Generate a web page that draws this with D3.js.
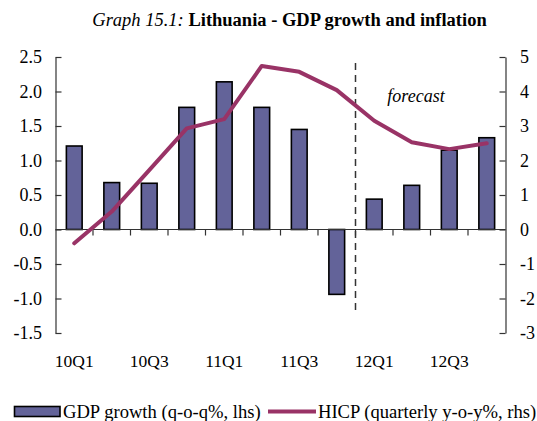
<!DOCTYPE html>
<html><head><meta charset="utf-8">
<script src="https://cdn.jsdelivr.net/npm/d3@7"></script>
<style>body{margin:0;background:#fff}svg{display:block}text{font-family:"Liberation Serif","Times New Roman",serif}</style>
</head><body><svg id="c" width="537" height="421"></svg>
<script>
const categories = ["10Q1","10Q2","10Q3","10Q4","11Q1","11Q2","11Q3","11Q4","12Q1","12Q2","12Q3","12Q4"];
const gdpGrowth = [1.21, 0.68, 0.67, 1.77, 2.14, 1.77, 1.45, -0.94, 0.44, 0.64, 1.15, 1.33];
const hicp = [-0.4, 0.52, 1.72, 2.93, 3.2, 4.74, 4.57, 4.04, 3.15, 2.53, 2.33, 2.5];
const leftTicks = [-1.5,-1.0,-0.5,0,0.5,1.0,1.5,2.0,2.5];
const rightTicks = [-3,-2,-1,0,1,2,3,4,5];
const xLabels = ["10Q1","10Q3","11Q1","11Q3","12Q1","12Q3"];

const svg = d3.select("#c");
const L = 55.5, R = 505.5, T = 57, B = 333;
const FS_TICK = 18, FS_X = 17.5, FS_LEG = 18.6;
const x = d3.scaleBand().domain(categories).range([L, R]).paddingInner(0).paddingOuter(0);
const yL = d3.scaleLinear().domain([-1.5, 2.5]).range([B, T]);
const yR = d3.scaleLinear().domain([-3, 5]).range([B, T]);
const barW = x.bandwidth() * 0.42;
const axisColor = "#333";

// title
const title = svg.append("text").attr("x", 289.5).attr("y", 26).attr("text-anchor", "middle").attr("font-size", 18.5);
title.append("tspan").attr("font-style", "italic").text("Graph 15.1: ");
title.append("tspan").attr("font-weight", "bold").text("Lithuania - GDP growth and inflation");

// bars
svg.selectAll("rect.bar").data(gdpGrowth).join("rect")
  .attr("x", (d, i) => x(categories[i]) + (x.bandwidth() - barW) / 2)
  .attr("y", d => yL(Math.max(0, d)))
  .attr("width", barW)
  .attr("height", d => Math.abs(yL(d) - yL(0)))
  .attr("fill", "#636399").attr("stroke", "#000").attr("stroke-width", 1.6);

// left axis
const gL = svg.append("g").attr("transform", `translate(${L},0)`)
  .call(d3.axisLeft(yL).tickValues(leftTicks).tickSizeInner(-6).tickSizeOuter(0).tickPadding(13.5));
// right axis
const gR = svg.append("g").attr("transform", `translate(${R},0)`)
  .call(d3.axisRight(yR).tickValues(rightTicks).tickSizeInner(-6).tickSizeOuter(0).tickPadding(14.5));
[gL, gR].forEach(g => {
  g.select(".domain").attr("stroke", axisColor).attr("stroke-width", 1.2);
  g.selectAll(".tick line").attr("stroke", axisColor).attr("stroke-width", 1.2);
  g.selectAll("text").attr("font-size", FS_TICK).attr("fill", "#000").style("font-family", '"Liberation Serif",serif');
});
gL.selectAll(".tick text").text(d => d < 0 ? "-" + Math.abs(d).toFixed(1) : d.toFixed(1));
gR.selectAll(".tick text").text(d => d < 0 ? "-" + Math.abs(d) : String(d));

// x axis at zero
const gX = svg.append("g").attr("transform", `translate(0,${yL(0)})`);
gX.append("line").attr("x1", L).attr("x2", R).attr("stroke", axisColor).attr("stroke-width", 1.2);
const bounds = d3.range(1, categories.length).map(i => x(categories[i]));
gX.selectAll("line.t").data(bounds).join("line").attr("class", "t")
  .attr("x1", d => d).attr("x2", d => d).attr("y1", 0).attr("y2", 6)
  .attr("stroke", axisColor).attr("stroke-width", 1.2);

// x labels
svg.selectAll("text.xl").data(xLabels).join("text").attr("class", "xl")
  .attr("x", d => x(d) + x.bandwidth() / 2).attr("y", 366.5)
  .attr("text-anchor", "middle").attr("font-size", FS_X).text(d => d);

// forecast divider
const divX = x("12Q1");
svg.append("line").attr("x1", divX).attr("x2", divX).attr("y1", 63).attr("y2", 310)
  .attr("stroke", "#333").attr("stroke-width", 1.5).attr("stroke-dasharray", "7,5");
svg.append("text").attr("x", 416).attr("y", 102).attr("text-anchor", "middle")
  .attr("font-size", FS_TICK).attr("font-style", "italic").text("forecast");

// HICP line
const line = d3.line().x((d, i) => x(categories[i]) + x.bandwidth() / 2).y(d => yR(d));
svg.append("path").datum(hicp).attr("d", line).attr("fill", "none")
  .attr("stroke", "#993366").attr("stroke-width", 4).attr("stroke-linejoin", "round").attr("stroke-linecap", "round");

// legend
svg.append("rect").attr("x", 14.5).attr("y", 406.5).attr("width", 45.5).attr("height", 10)
  .attr("fill", "#636399").attr("stroke", "#000").attr("stroke-width", 1.6);
svg.append("text").attr("x", 63).attr("y", 418).attr("font-size", FS_LEG).text("GDP growth (q-o-q%, lhs)");
svg.append("line").attr("x1", 268).attr("x2", 316).attr("y1", 411.5).attr("y2", 411.5)
  .attr("stroke", "#993366").attr("stroke-width", 4);
svg.append("text").attr("x", 318).attr("y", 418).attr("font-size", FS_LEG).text("HICP (quarterly y-o-y%, rhs)");
</script></body></html>
